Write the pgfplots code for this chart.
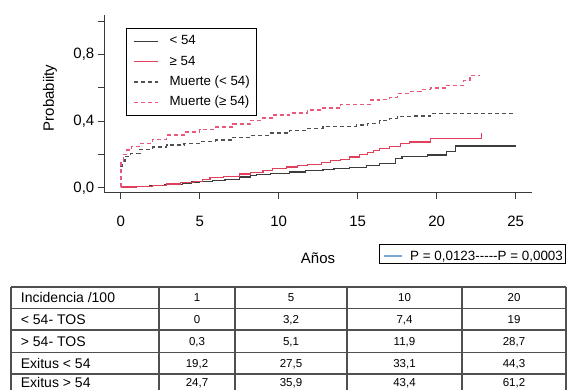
\documentclass[border=0pt]{standalone}
\usepackage{pgfplots}
\pgfplotsset{compat=1.18}
\usepackage{fontspec}
\setmainfont{Liberation Sans}
\definecolor{cblack}{HTML}{3C3C3C}
\definecolor{cred}{HTML}{E0405C}
\definecolor{cgrayd}{HTML}{505050}
\definecolor{credd}{HTML}{E8587A}
\definecolor{pblue}{HTML}{7BA7D4}
\definecolor{axisgray}{HTML}{3A3A3A}
\definecolor{tablegray}{HTML}{505050}

\begin{document}
\begin{tikzpicture}[x=1pt,y=1pt]
\useasboundingbox (0,0) rectangle (572,-390);
\begin{axis}[
  at={(104.3pt,-192.7pt)}, anchor=south west,
  scale only axis, width=427.7pt, height=177.7pt,
  xmin=-1.04, xmax=26.03, ymin=-0.029, ymax=1.038,
  axis x line*=bottom, axis y line*=left,
  axis line style={-, line width=1.2pt, draw=axisgray},
  xtick={0,5,10,15,20,25},
  ytick={0,0.2,0.4,0.6,0.8,1},
  yticklabels={{0,0},{},{0,4},{},{0,8},{}},
  tick align=outside, major tick length=6.5pt,
  every tick/.style={line width=1.1pt, draw=axisgray},
  /pgf/number format/assume math mode=true,
  ticklabel style={font=\fontsize{15}{18}\selectfont},
  xticklabel style={yshift=-13pt},
  xlabel={Años}, ylabel={Probabiity},
  label style={font=\fontsize{15}{18}\selectfont},
  xlabel style={at={(axis description cs:0.4997,-0.367)}, anchor=center},
  ylabel style={at={(axis description cs:-0.127,0.533)}, anchor=center},
  legend cell align=left,
  legend style={at={(axis description cs:0.0507,0.927)}, anchor=north west,
    draw=black, line width=0.9pt, font=\fontsize{13.3}{16}\selectfont,
    inner xsep=7pt, inner ysep=6.5pt, row sep=7.3pt, column sep=11pt,
    nodes={inner sep=0pt, text height=10pt, text depth=3pt}},
  legend image code/.code={\draw[#1, line width=1.2pt] (0pt,0pt) -- (24pt,0pt);},
]
\addplot[const plot, cblack, line width=1.2pt] coordinates {
(0,0.005) (0.5,0.007) (1.0,0.009) (1.85,0.015) (2.8,0.022) (3.9,0.029)
(4.5,0.035) (5.0,0.040) (5.8,0.045) (6.6,0.052) (7.5,0.065) (8.2,0.072)
(8.6,0.080) (9.5,0.087) (10.7,0.095) (11.7,0.103) (12.8,0.112) (13.5,0.118)
(14.5,0.122) (15.55,0.133) (16.4,0.145) (17.4,0.177) (17.8,0.187) (19.4,0.197)
(20.6,0.217) (21.2,0.251) (25.0,0.251)};
\addlegendentry{< 54}
\addplot[const plot, cred, line width=1.2pt] coordinates {
(0,0.005) (1.0,0.008) (2.0,0.015) (2.9,0.023) (3.8,0.030) (4.6,0.039)
(5.2,0.050) (5.65,0.060) (6.5,0.070) (7.5,0.083) (8.2,0.091) (9.0,0.105)
(9.6,0.117) (10.5,0.125) (11.2,0.133) (11.8,0.140) (12.7,0.150) (13.3,0.165)
(13.9,0.172) (14.5,0.185) (15.1,0.200) (15.6,0.211) (16.0,0.225) (16.4,0.237)
(17.0,0.250) (17.7,0.268) (18.3,0.275) (19.6,0.295) (22.85,0.33)};
\addlegendentry{≥ 54}
\addplot[const plot, cgrayd, line width=1.2pt, dash pattern=on 4pt off 3pt] coordinates {
(0,0.005) (0.02,0.13) (0.1,0.16) (0.27,0.187) (0.6,0.205) (1.22,0.231)
(2.0,0.245) (2.9,0.257) (4.0,0.268) (5.0,0.277) (6.0,0.288) (7.1,0.303)
(8.2,0.315) (9.5,0.33) (10.7,0.343) (11.8,0.355) (12.8,0.367) (14.9,0.377)
(15.6,0.387) (16.4,0.403) (17.0,0.415) (17.5,0.427) (18.5,0.431) (19.6,0.447)
(25.0,0.447)};
\addlegendentry{Muerte (< 54)}
\addplot[const plot, credd, line width=1.2pt, dash pattern=on 4pt off 3pt] coordinates {
(0,0.005) (0.02,0.16) (0.15,0.20) (0.38,0.227) (0.7,0.25) (1.22,0.267)
(2.0,0.29) (2.9,0.317) (4.0,0.335) (5.0,0.351) (6.0,0.365) (7.1,0.383)
(8.2,0.403) (9.0,0.42) (9.66,0.437) (10.7,0.45) (11.8,0.467) (12.8,0.48)
(13.9,0.50) (15.35,0.50) (15.8,0.528) (16.4,0.533) (17.0,0.545) (17.5,0.567)
(18.3,0.58) (19.0,0.59) (19.6,0.60) (20.6,0.617) (21.7,0.647) (22.1,0.677)
(22.75,0.677)};
\addlegendentry{Muerte (≥ 54)}
\end{axis}

% P box
\draw[line width=0.9pt] (379,-244.5) rectangle (565,-263.5);
\draw[pblue, line width=2pt] (383.5,-255.5) -- (401.5,-255.5);
\node[anchor=base west, inner sep=0pt, font=\fontsize{13.4}{16}\selectfont] at (410,-260)
  {P = 0,0123\mbox{-}\mbox{-}\mbox{-}\mbox{-}\mbox{-}P = 0,0003};

% table
\foreach \yy in {287,308.3,330,352.5,374} {
  \draw[tablegray, line width=1.3pt] (11,-\yy) -- (566,-\yy);
}
\foreach \xx in {11,159,235,347,462,566} {
  \draw[tablegray, line width=1.3pt] (\xx,-287) -- (\xx,-390);
}
\foreach \lab [count=\i] in {Incidencia /100, < 54- TOS, > 54- TOS, Exitus < 54, Exitus > 54} {
  \pgfmathsetmacro{\cy}{{297.7,319.2,341.2,363.3,382.5}[\i-1]}
  \node[anchor=base west, inner sep=0pt, font=\fontsize{14}{17}\selectfont] at (20.7,-\cy-5) {\lab};
}
\def\numfont{\fontsize{11.5}{14}\selectfont}
\foreach \a/\b/\c/\d [count=\i] in {1/5/10/20, 0/{3,2}/{7,4}/19, {0,3}/{5,1}/{11,9}/{28,7},
   {19,2}/{27,5}/{33,1}/{44,3}, {24,7}/{35,9}/{43,4}/{61,2}} {
  \pgfmathsetmacro{\cy}{{297.7,319.2,341.2,363.3,382.5}[\i-1]+4.1}
  \node[anchor=base, inner sep=0pt, font=\numfont] at (197,-\cy) {\a};
  \node[anchor=base, inner sep=0pt, font=\numfont] at (291,-\cy) {\b};
  \node[anchor=base, inner sep=0pt, font=\numfont] at (404.5,-\cy) {\c};
  \node[anchor=base, inner sep=0pt, font=\numfont] at (514,-\cy) {\d};
}
\end{tikzpicture}
\end{document}
